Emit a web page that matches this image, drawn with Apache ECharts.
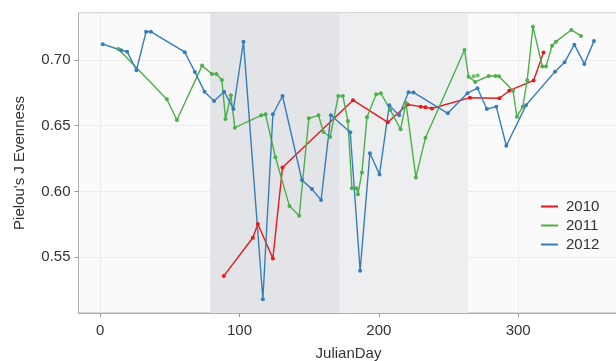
<!DOCTYPE html>
<html>
<head>
<meta charset="utf-8">
<script src="https://cdn.jsdelivr.net/npm/echarts@6/dist/echarts.min.js"></script>
<style>
  html, body { margin: 0; padding: 0; background: #fff; }
  #chart { width: 616px; height: 361px; }
</style>
</head>
<body>
<div id="chart"></div>
<script>
// JulianDay / Pielou's J evenness, one list per year
var days2010 = [88.8, 109.6, 113.2, 124.0, 130.9, 181.5, 206.5, 220.7, 230.1, 233.5, 238.1, 265.4, 286.6, 293.6, 311.1, 318.2];
var even2010 = [0.5358, 0.5648, 0.5752, 0.5491, 0.6183, 0.6694, 0.6526, 0.6661, 0.6645, 0.6640, 0.6631, 0.6713, 0.6709, 0.6766, 0.6844, 0.7056];

var days2011 = [13.1, 47.9, 55.1, 73.2, 80.2, 83.5, 87.4, 90.0, 93.8, 96.7, 115.6, 118.7, 125.8, 135.9, 142.9, 149.8, 156.7, 160.3, 165.1, 170.9, 174.2, 177.8, 180.7, 184.0, 185.0, 187.9, 191.5, 198.1, 201.5, 208.2, 215.6, 219.5, 226.6, 233.5, 261.5, 264.4, 269.2, 278.9, 283.8, 286.2, 296.3, 299.1, 303.3, 306.5, 310.6, 317.3, 320.0, 324.3, 327.1, 338.1, 345.1];
var even2011 = [0.7084, 0.6701, 0.6543, 0.6957, 0.6893, 0.6893, 0.6848, 0.6551, 0.6731, 0.6485, 0.6579, 0.6587, 0.6260, 0.5889, 0.5815, 0.6556, 0.6579, 0.6452, 0.6414, 0.6726, 0.6726, 0.6536, 0.6024, 0.6024, 0.5978, 0.6145, 0.6564, 0.6739, 0.6747, 0.6620, 0.6473, 0.6673, 0.6107, 0.6409, 0.7076, 0.6873, 0.6833, 0.6878, 0.6878, 0.6876, 0.6766, 0.6568, 0.6645, 0.6846, 0.7253, 0.6951, 0.6951, 0.7108, 0.7139, 0.7228, 0.7183];
// 2011 samples sitting off the line
var extraDays2011 = [268.0, 270.9];
var extraEven2011 = [0.6876, 0.6881];

var days2012 = [1.9, 15.1, 19.4, 26.1, 33.0, 36.4, 60.8, 68.0, 74.9, 81.8, 89.0, 95.7, 102.9, 116.8, 124.0, 130.9, 144.8, 152.0, 158.6, 165.6, 179.5, 186.6, 193.6, 200.5, 207.5, 214.6, 221.3, 224.9, 249.5, 263.6, 270.8, 277.5, 284.3, 291.5, 305.6, 326.4, 333.3, 340.3, 347.5, 354.4];
var even2012 = [0.7120, 0.7074, 0.7063, 0.6922, 0.7215, 0.7215, 0.7059, 0.6909, 0.6759, 0.6688, 0.6759, 0.6627, 0.7139, 0.5181, 0.6587, 0.6726, 0.6087, 0.6018, 0.5935, 0.6579, 0.6450, 0.5397, 0.6290, 0.6130, 0.6655, 0.6579, 0.6754, 0.6753, 0.6594, 0.6747, 0.6785, 0.6627, 0.6645, 0.6348, 0.6655, 0.6911, 0.6982, 0.7116, 0.6970, 0.7145];

// season bands (spring / summer)
var seasonStart = [79, 172];
var seasonEnd = [172, 264];
var seasonColor = ['#e3e4e7', '#edeef0'];

var years = ['2010', '2011', '2012'];
var yearColor = ['#e41a1c', '#4daf4a', '#377eb8'];

function pairs(xs, ys) {
    var out = [];
    for (var i = 0; i < xs.length; i++) out.push([xs[i], ys[i]]);
    return out;
}

var bands = [];
for (var i = 0; i < seasonStart.length; i++) {
    bands.push([{ xAxis: seasonStart[i], itemStyle: { color: seasonColor[i] } }, { xAxis: seasonEnd[i] }]);
}

function lineSeries(name, data, color) {
    return {
        name: name,
        type: 'line',
        data: data,
        z: 3,
        showSymbol: true,
        symbol: 'circle',
        symbolSize: 4,
        lineStyle: { width: 1.4, color: color },
        itemStyle: { color: color },
        emphasis: { disabled: true },
        animation: false
    };
}

var txt = '#333';
var font = 'Liberation Sans, Arial, sans-serif';

var myChart = echarts.init(document.getElementById('chart'));
myChart.setOption({
    animation: false,
    textStyle: { fontFamily: font },
    grid: {
        left: 78.5, top: 13, width: 540, height: 300,
        outerBoundsMode: 'none',
        containLabel: false,
        show: true, backgroundColor: '#fafafa',
        borderColor: '#b0b0b0', borderWidth: 1
    },
    legend: {
        data: years,
        orient: 'vertical',
        left: 536, top: 194,
        icon: 'rect', itemWidth: 17, itemHeight: 2,
        itemGap: 4,
        textStyle: { fontSize: 15, color: txt, fontFamily: font, padding: [0, 0, 0, 3] }
    },
    xAxis: {
        type: 'value',
        min: -15.5, max: 372,
        name: 'JulianDay', nameLocation: 'middle', nameGap: 33,
        nameTextStyle: { fontSize: 15, color: txt },
        axisLine: { show: true, onZero: false, lineStyle: { color: '#b0b0b0' } },
        axisTick: { show: true, length: 4, lineStyle: { color: '#999' } },
        axisLabel: { fontSize: 15, color: txt, margin: 10, showMinLabel: false, showMaxLabel: false },
        splitLine: { show: true, lineStyle: { color: '#ececec', width: 1 } }
    },
    yAxis: {
        type: 'value',
        min: 0.5076, max: 0.7357,
        name: "Pielou's J Evenness", nameLocation: 'middle', nameGap: 51,
        nameTextStyle: { fontSize: 15, color: txt },
        axisLine: { show: true, onZero: false, lineStyle: { color: '#b0b0b0' } },
        axisTick: { show: true, length: 4, lineStyle: { color: '#999' } },
        axisLabel: {
            fontSize: 15, color: txt, margin: 8, showMinLabel: false, showMaxLabel: false,
            formatter: function (v) { return v.toFixed(2); }
        },
        splitLine: { show: true, lineStyle: { color: '#ececec', width: 1 } }
    },
    series: [
        {
            type: 'line', data: [], z: 1, silent: true,
            markArea: { silent: true, data: bands }
        },
        lineSeries('2010', pairs(days2010, even2010), yearColor[0]),
        lineSeries('2011', pairs(days2011, even2011), yearColor[1]),
        lineSeries('2012', pairs(days2012, even2012), yearColor[2]),
        {
            name: '2011', type: 'scatter', z: 4,
            data: pairs(extraDays2011, extraEven2011),
            symbolSize: 4, itemStyle: { color: yearColor[1] },
            emphasis: { disabled: true }
        }
    ]
});
</script>
</body>
</html>
